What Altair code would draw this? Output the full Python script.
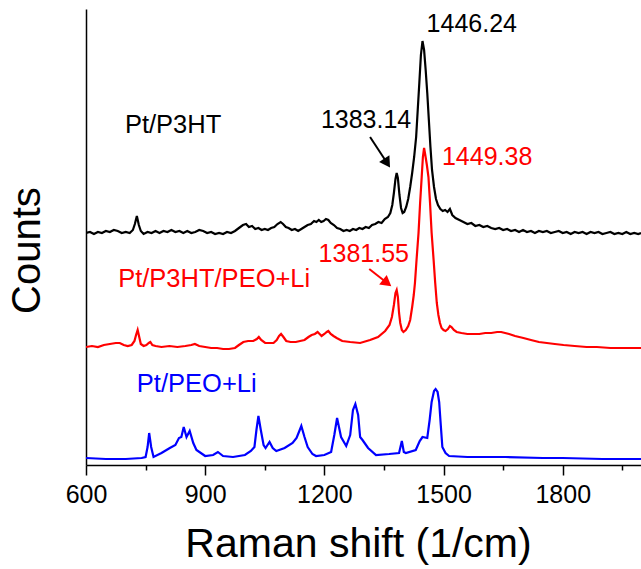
import altair as alt
import pandas as pd

# ---- data (y in arbitrary count units) ----
black_x = [600,610,620,630,640,650,660,670,680,690,700,710,718,723,728,733,738,745,755,765,775,785,795,805,815,825,835,845,855,865,875,885,895,905,915,925,935,945,955,965,975,985,995,1003,1010,1018,1026,1034,1042,1050,1058,1066,1074,1082,1090,1096,1103,1110,1118,1126,1134,1142,1150,1158,1166,1174,1180,1186,1192,1198,1204,1210,1216,1224,1232,1240,1248,1256,1264,1272,1280,1288,1296,1304,1312,1320,1328,1336,1344,1352,1360,1366,1371,1375,1379,1382,1385,1389,1393,1397,1401,1406,1411,1416,1421,1426,1431,1435,1439,1443,1447,1451,1455,1459,1463,1467,1471,1476,1481,1486,1492,1498,1504,1510,1516,1522,1530,1540,1550,1560,1570,1580,1590,1600,1610,1620,1630,1640,1650,1660,1670,1680,1690,1700,1710,1720,1730,1740,1750,1760,1770,1780,1790,1800,1810,1820,1830,1840,1850,1860,1870,1880,1890,1900,1910,1920,1930,1940,1950,1960,1970,1980,1990,1997]
black_y = [232,233,231,233,232,234,233,235,234,232,233,232,235,241,249,240,234,231,233,232,234,232,234,233,235,233,234,232,234,232,233,235,234,232,233,231,232,231,233,232,234,237,240,241,238,239,236,237,235,236,235,237,238,241,243,241,238,237,235,236,234,236,238,240,241,244,243,245,243,244,246,245,242,240,237,236,234,235,234,236,235,237,236,238,237,240,241,243,242,246,248,252,260,272,286,292,287,270,257,252,253,258,266,278,292,308,328,355,382,410,424,415,395,372,345,318,295,278,266,260,256,254,255,253,256,250,247,245,243,241,242,239,240,238,239,237,236,237,235,236,234,235,233,235,233,234,232,234,233,234,232,233,234,232,233,231,233,232,233,231,233,232,233,231,232,233,231,232,231,233,231,232,231,232]

red_x = [600,615,630,645,660,675,685,695,705,715,722,726,730,734,738,745,752,758,762,767,775,790,810,830,850,865,874,885,900,915,930,945,960,975,985,996,1008,1021,1030,1035,1041,1051,1062,1072,1080,1086,1091,1097,1104,1115,1128,1139,1150,1160,1168,1176,1183,1188,1193,1200,1206,1210,1216,1223,1231,1245,1265,1290,1315,1335,1353,1364,1370,1375,1379,1382,1385,1388,1391,1395,1399,1405,1411,1416,1421,1425,1428,1432,1437,1441,1445,1448,1451,1454,1458,1462,1466,1470,1475,1479,1483,1487,1491,1495,1500,1505,1511,1516,1520,1526,1533,1545,1560,1575,1590,1605,1620,1635,1645,1655,1665,1680,1701,1720,1740,1760,1780,1802,1830,1860,1886,1920,1950,1975,1997]
red_y = [118,119,118,120,121,122,122,120,119,120,124,130,135,128,121,119,120,122,123,120,119,118,119,118,119,120,121,119,118,117,117,116,116,117,120,123,124,124,126,128,125,122,122,122,125,129,131,128,124,123,123,124,125,128,130,131,133,131,129,131,133,134,131,129,127,124,123,122,125,128,134,140,148,160,172,175,168,152,142,135,133,135,139,145,158,170,182,205,232,262,288,308,317,310,300,288,262,232,205,182,162,150,142,137,135,134,136,139,138,135,133,132,131,131,131,132,132,133,133,132,131,129,127,125,123,122,121,120,119,118,118,117,117,117,117]

blue_x = [600,650,700,740,750,755,759,764,770,790,811,825,834,840,846,853,861,870,878,900,920,932,945,970,1000,1015,1024,1029,1034,1040,1047,1052,1062,1070,1079,1100,1120,1130,1142,1150,1158,1170,1179,1200,1217,1225,1232,1242,1255,1265,1272,1278,1285,1290,1296,1310,1330,1363,1388,1395,1400,1405,1430,1440,1447,1459,1465,1470,1476,1480,1485,1489,1493,1497,1505,1514,1560,1656,1750,1800,1900,1997]
blue_y = [7,6,6,7,8,18,32,18,8,12,17,20,27,28,38,28,34,22,15,9,10,13,9,8,10,14,18,35,49,35,20,17,23,17,14,17,22,27,39,28,18,11,9,10,13,30,47,28,19,30,55,61,50,28,25,17,10,11,12,24,13,12,15,24,28,27,45,63,74,76,73,63,40,18,12,9,8,8,7,7,6,6]

series_names = ["Pt/P3HT", "Pt/P3HT/PEO+Li", "Pt/PEO+Li"]
series_colors = ["#000000", "#ff0000", "#0000ff"]

# annotations
ann_text = ["1446.24", "1383.14", "1449.38", "1381.55", "Pt/P3HT", "Pt/P3HT/PEO+Li", "Pt/PEO+Li"]
ann_x = [1571, 1305, 1496, 1413, 698, 681, 728]
ann_y = [433, 337, 300, 203, 332, 178, 73]
ann_align = ["center", "center", "left", "right", "left", "left", "left"]
ann_color = ["#000000", "#000000", "#ff0000", "#ff0000", "#000000", "#ff0000", "#0000ff"]
ann_size = [25, 25, 25, 25, 25.5, 25.5, 25.5]

arrow_x = [1315, 1313]
arrow_y = [328, 196]
arrow_x2 = [1358, 1358]
arrow_y2 = [302, 182]
arrow_angle = [147, 128]
arrow_color = ["#000000", "#ff0000"]

rows = []
for name, xs, ys in zip(series_names, [black_x, red_x, blue_x], [black_y, red_y, blue_y]):
    for a, b in zip(xs, ys):
        rows.append({"x": a, "y": b, "series": name})
spec = pd.DataFrame(rows)

FONT = "Liberation Sans"
XDOM = [600, 1997]
YDOM = [0, 456]

xscale = alt.Scale(domain=XDOM, nice=False, zero=False)
yscale = alt.Scale(domain=YDOM, nice=False, zero=False)

lines = alt.Chart(spec).mark_line(strokeWidth=2.2, clip=True).encode(
    x=alt.X("x:Q", scale=xscale,
            axis=alt.Axis(
                title="Raman shift (1/cm)",
                values=list(range(600, 2000, 150)),
                format="d",
                labelExpr="datum.value % 300 === 0 ? datum.label : ''",
                tickSize={"condition": {"test": "datum.value % 300 === 0", "value": 10}, "value": 5},
                tickColor="#000000", tickWidth=1.5,
                domainColor="#000000", domainWidth=1.5,
                labelFont=FONT, labelFontSize=25, labelColor="#000000", labelPadding=7,
                labelFlush=False, labelOverlap=False,
                grid=False,
                titleFont=FONT, titleFontSize=41, titleFontWeight="normal", titleColor="#000000",
                titleX=272, titleY=91, titleBaseline="alphabetic", titleAlign="center",
            )),
    y=alt.Y("y:Q", scale=yscale,
            axis=alt.Axis(
                title="Counts", ticks=False, labels=False, grid=False,
                domainColor="#000000", domainWidth=1.5,
                titleFont=FONT, titleFontSize=40, titleFontWeight="normal", titleColor="#000000",
                titleAngle=-90, titleX=-59, titleY=241, titleBaseline="middle", titleAlign="center",
            )),
    color=alt.Color("series:N", scale=alt.Scale(domain=series_names, range=series_colors), legend=None),
    detail="series:N",
)

ann = pd.DataFrame({"t": ann_text, "x": ann_x, "y": ann_y, "al": ann_align, "c": ann_color, "s": ann_size})
texts = []
for al in ["left", "center", "right"]:
    sub = ann[ann["al"] == al]
    texts.append(
        alt.Chart(sub).mark_text(font=FONT, align=al, baseline="alphabetic").encode(
            x=alt.X("x:Q", scale=xscale),
            y=alt.Y("y:Q", scale=yscale),
            text="t:N",
            color=alt.Color("c:N", scale=None),
            size=alt.Size("s:Q", scale=None),
        )
    )

arr = pd.DataFrame({"x": arrow_x, "y": arrow_y, "x2": arrow_x2, "y2": arrow_y2, "a": arrow_angle, "c": arrow_color})
shafts = alt.Chart(arr).mark_rule(strokeWidth=2).encode(
    x=alt.X("x:Q", scale=xscale), y=alt.Y("y:Q", scale=yscale),
    x2="x2:Q", y2="y2:Q",
    color=alt.Color("c:N", scale=None),
)
heads = alt.Chart(arr).mark_point(shape="triangle-up", filled=True, size=150, opacity=1).encode(
    x=alt.X("x2:Q", scale=xscale), y=alt.Y("y2:Q", scale=yscale),
    angle=alt.Angle("a:Q", scale=None),
    color=alt.Color("c:N", scale=None),
)

chart = alt.layer(lines, *texts, shafts, heads).properties(
    width=555, height=456,
    autosize=alt.AutoSizeParams(type="none"),
    padding={"left": 86, "top": 9, "right": 0, "bottom": 104},
    background="white",
).configure_view(stroke=None)

chart.save("out.html", embed_options={"renderer": "svg", "actions": False})
